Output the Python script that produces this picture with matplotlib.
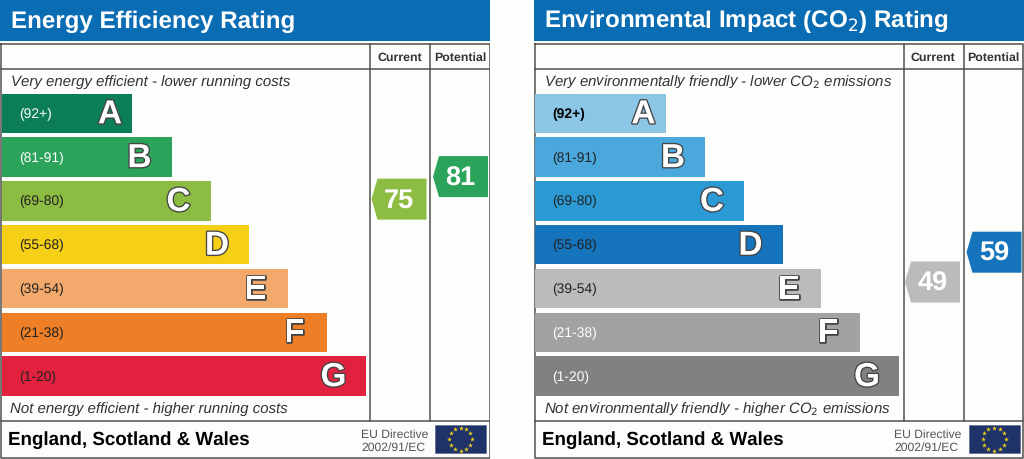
import numpy as np
import matplotlib
matplotlib.use('Agg')
import matplotlib.pyplot as plt
import matplotlib.patheffects as pe

plt.rcParams['font.family'] = ['Liberation Sans', 'DejaVu Sans']
plt.rcParams['text.hinting'] = 'none'
plt.rcParams['text.kerning_factor'] = 6

letters = ['A', 'B', 'C', 'D', 'E', 'F', 'G']
ranges = ['(92+)', '(81-91)', '(69-80)', '(55-68)', '(39-54)', '(21-38)', '(1-20)']
band_low = [92, 81, 69, 55, 39, 21, 1]
band_high = [100, 91, 80, 68, 54, 38, 20]
bar_ends = [132, 171.5, 210.5, 249, 287.5, 326.5, 365.5]

energy_colors = ['#0b7e55', '#2ba35b', '#8cbc41', '#f6cf17', '#f4a96c', '#ee7f27', '#e2213f']
energy_label_colors = ['white', 'white', '#222222', '#222222', '#222222', '#222222', '#222222']
co2_colors = ['#8cc6e7', '#4aa8dc', '#2a99d4', '#1574bb', '#bcbbb9', '#a2a2a3', '#808183']
co2_label_colors = ['black', '#222222', '#222222', '#222222', '#222222', 'white', 'white']

energy_current, energy_potential = 75, 81
co2_current, co2_potential = 49, 59

BG = '#fdfdfb'
BLUE = '#0a6cb3'
LINE = '#505050'
TOP = 94.8


def score_to_y(score):
    # the arrow sits inside its band, proportional to the score
    for i in range(7):
        if band_low[i] <= score <= band_high[i]:
            top = TOP + i * 43.8
            return top + 39 - 39 * (score - band_low[i]) / (band_high[i] - band_low[i]), i


def arrow(ax, score, left, colors):
    y, i = score_to_y(score)
    ax.fill([left, left + 6, left + 55, left + 55, left + 6],
            [y, y - 20.5, y - 20.5, y + 20.5, y + 20.5], color=colors[i], lw=0, zorder=3)
    ax.text(left + 27.5, y + 1, str(score), color='white', fontsize=19.5, fontweight='bold',
            ha='center', va='center', zorder=4)


def draw_panel(ax, title, top_text, bottom_text, colors, label_colors, current, potential, bold_a):
    ax.set_xlim(0, 490)
    ax.set_ylim(460, 0)
    ax.axis('off')

    # header and frame
    ax.barh(20.75, 490, height=41.5, left=0, color=BLUE, lw=0)
    ax.text(11, 21.5, title, color='white', fontsize=17.4, fontweight='bold', va='center')
    ax.plot([1, 489.5, 489.5, 1, 1], [45, 45, 458.5, 458.5, 45], color=LINE, lw=1.1)
    ax.plot([1, 489.5], [69.5, 69.5], color=LINE, lw=1.1)
    ax.plot([1, 489.5], [421.5, 421.5], color=LINE, lw=1.1)
    ax.plot([370, 370], [45, 421.5], color=LINE, lw=1.1)
    ax.plot([430, 430], [45, 421.5], color=LINE, lw=1.1)
    ax.text(399.5, 58, 'Current', color='#333333', fontsize=8.9, fontweight='bold', ha='center', va='center')
    ax.text(460, 58, 'Potential', color='#333333', fontsize=8.9, fontweight='bold', ha='center', va='center')

    ax.text(11, 82.5, top_text, color='#333333', fontsize=10.8, style='italic', va='center')
    ax.text(10, 409.5, bottom_text, color='#333333', fontsize=10.8, style='italic', va='center')

    # rating bands
    tops = TOP + np.arange(7) * 43.8
    ax.barh(tops + 19.5, np.array(bar_ends) - 1.5, height=39.5, left=1.5, color=colors, lw=0, zorder=2)
    for i in range(7):
        weight = 'bold' if bold_a and i == 0 else 'normal'
        ax.text(19, tops[i] + 19.5, ranges[i], color=label_colors[i], fontsize=10,
                fontweight=weight, va='center', zorder=3)
        shift = 22 if i == 0 else 32
        ax.text(bar_ends[i] - shift, tops[i] + 21, letters[i], color='white', fontsize=24,
                fontweight='bold', ha='center', va='center', zorder=3,
                path_effects=[pe.withStroke(linewidth=1.9, foreground='#444444')])

    arrow(ax, current, 371.5, colors)
    arrow(ax, potential, 433, colors)

    # footer
    ax.text(8, 440.5, 'England, Scotland & Wales', color='black', fontsize=13.5, fontweight='bold', va='center')
    ax.text(361, 434.5, 'EU Directive', color='#555555', fontsize=8.7, va='center')
    ax.text(361, 448, '2002/91/EC', color='#555555', fontsize=8.7, va='center')
    ax.barh(440, 51, height=28, left=435, color='#1f3368', edgecolor='#5a6a90', lw=0.5)
    ang = np.arange(12) * np.pi / 6
    ax.scatter(460.5 + 11.5 * np.sin(ang), 440 - 11.5 * np.cos(ang), marker='*', s=13,
               color='#f2d31b', lw=0, zorder=4)


fig = plt.figure(figsize=(10.24, 4.6), dpi=100, facecolor=BG)
ax1 = fig.add_axes([0, 0, 490 / 1024, 1])
ax2 = fig.add_axes([533.5 / 1024, 0, 490 / 1024, 1])

draw_panel(ax1, 'Energy Efficiency Rating', 'Very energy efficient - lower running costs',
           'Not energy efficient - higher running costs', energy_colors, energy_label_colors,
           energy_current, energy_potential, False)
draw_panel(ax2, 'Environmental Impact (CO$_2$) Rating',
           'Very environmentally friendly - lower CO$_2$ emissions',
           'Not environmentally friendly - higher CO$_2$ emissions', co2_colors, co2_label_colors,
           co2_current, co2_potential, True)

fig.savefig('out.png', dpi=100, facecolor=BG)
